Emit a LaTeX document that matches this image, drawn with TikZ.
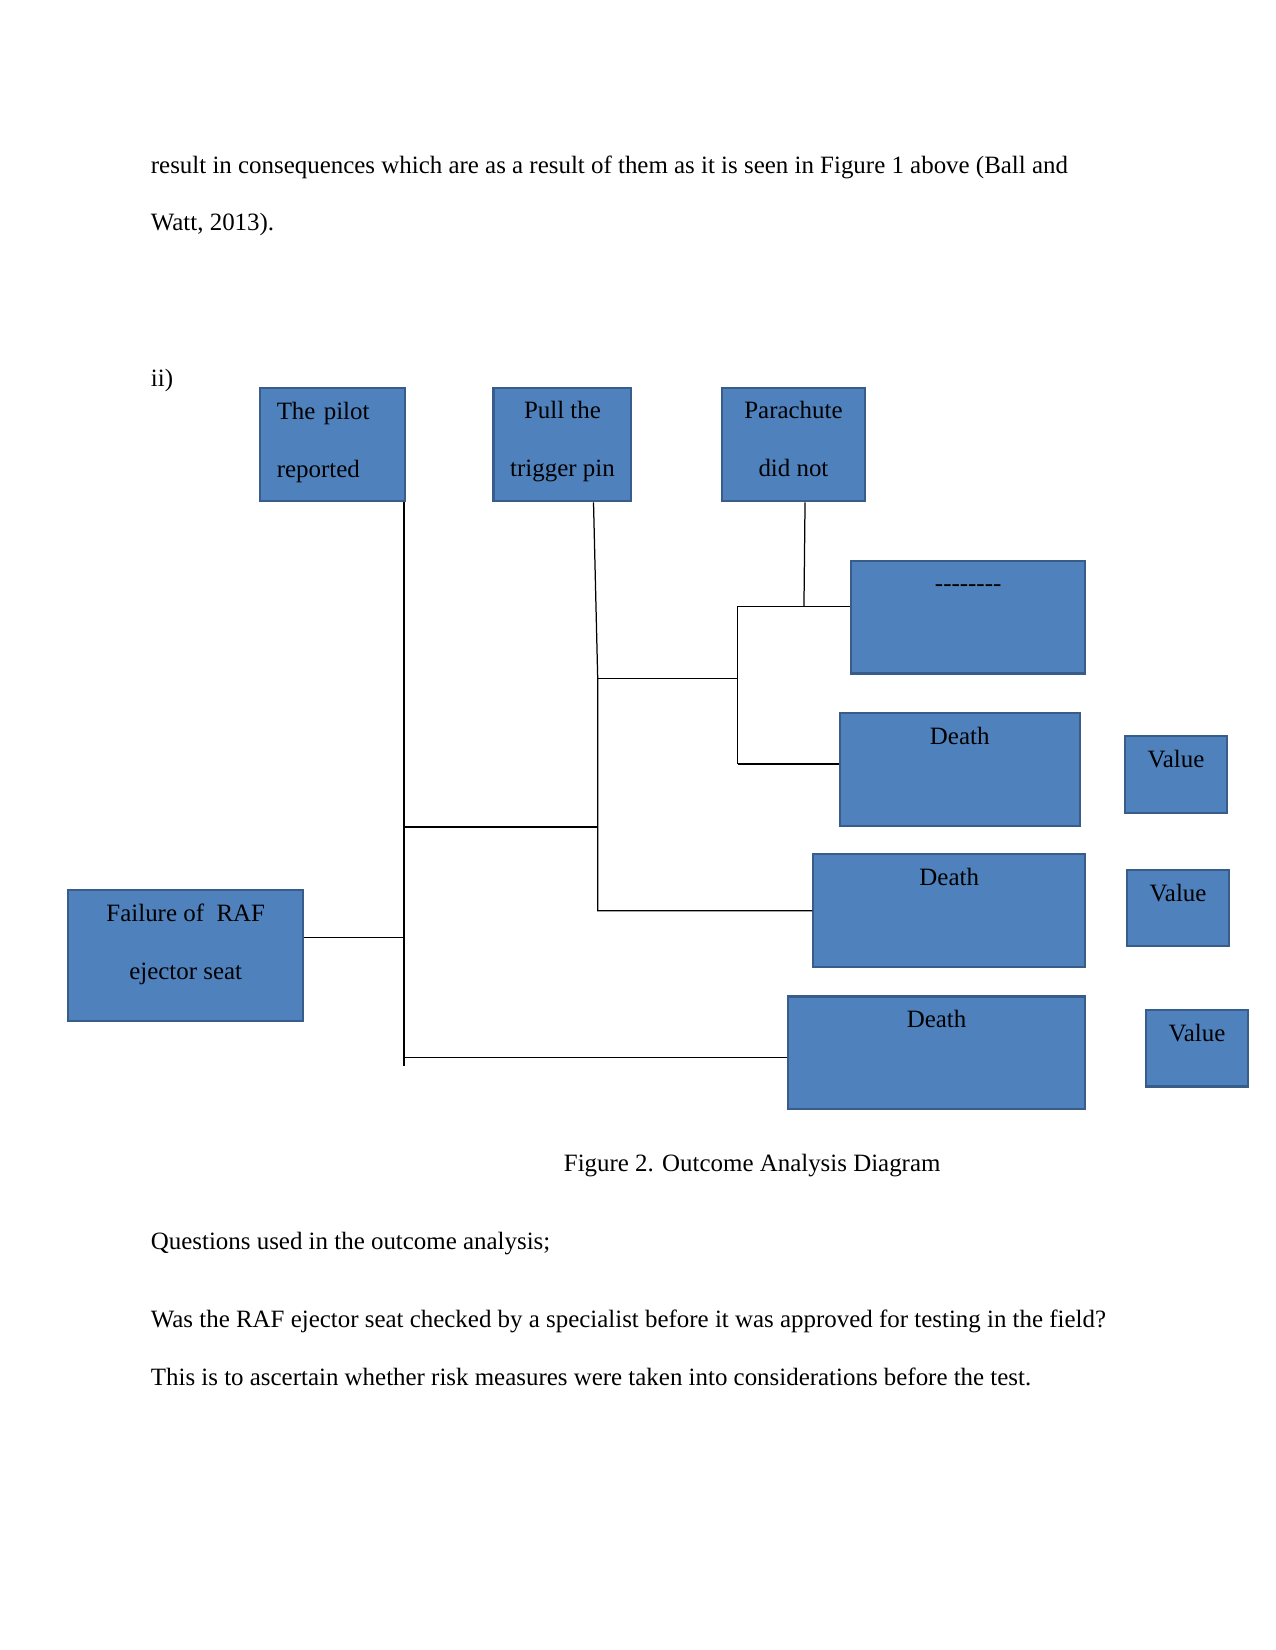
\documentclass[tikz,border=0pt]{standalone}
\usepackage{fontspec}
\setmainfont{Liberation Serif}
\usepackage{tikz}
\usetikzlibrary{positioning}

\definecolor{boxfill}{HTML}{4F81BD}
\definecolor{boxline}{HTML}{385D8A}

\begin{document}
\begin{tikzpicture}[
  x=0.017813cm, y=-0.017813cm,
  box/.style={draw=boxline, fill=boxfill, line width=1pt, inner sep=0pt, anchor=north west, font=\fontsize{12}{27.8}\selectfont},
  head/.style={box, align=center, text height=1.496cm, text depth=0.424cm},
  outcome/.style={box, minimum height=1.906cm, text height=0.525cm, text depth=1.381cm},
  val/.style={box, minimum width=1.728cm, text height=0.534cm, text depth=0.766cm},
  body/.style={anchor=base west, inner sep=0pt, font=\fontsize{12}{14}\selectfont},
  wire/.style={line width=0.6pt}
]
\useasboundingbox (0,0) rectangle (1212,1568);

\node[body] (l1) at (143,164.8) {result in consequences which are as a result of them as it is seen in Figure 1 above (Ball and};
\node[body] (l2) at (143,219.3) {Watt, 2013).};
\node[body] (ii) at (143,367.6) {ii)};

\node[box, align=left, text width=1.888cm, inner xsep=0.285cm, text height=0.536cm, text depth=1.382cm] (pilot) at (246,367.6) {The pilot\\reported};
\node[head, minimum width=2.334cm] (pull) at (468,367.6) {Pull the\\trigger pin};
\node[head, minimum width=2.423cm] (para) at (685,367.6) {Parachute\\did not};

\node[outcome, minimum width=3.955cm] (dash) at (808,532) {-{}-{}-{}-{}-{}-{}-{}-};
\node[outcome, minimum width=4.061cm] (d1) at (797,677) {Death};
\node[outcome, minimum width=4.596cm] (d2) at (772,811) {Death};
\node[outcome, minimum width=5.023cm] (d3) at (748,946) {Death};

\node[val] (v1) at (1068,698.7) {Value};
\node[val] (v2) at (1070,825.4) {Value};
\node[val] (v3) at (1088,958.5) {Value};

\node[box, align=center, minimum width=3.972cm, text height=1.514cm, text depth=0.705cm] (fail) at (64,845) {Failure of\ \ RAF\\ejector seat};

\coordinate (tr1) at (384,786);
\coordinate (tr2) at (384,891);
\coordinate (tr3) at (384,1005);
\coordinate (trend) at (384,1013);
\coordinate (pj) at (568,786);
\coordinate (pk) at (568,645);
\coordinate (qk) at (701,645);
\coordinate (qa) at (701,576);
\coordinate (qb) at (701,726);
\coordinate (pc) at (764,576);

\draw[wire] (trend |- pilot.south) -- (trend);
\draw[wire] (fail.east |- tr2) -- (tr2);
\draw[wire] (tr1) -- (pj);
\draw[wire] (tr3) -- (d3.west |- tr3);
\draw[wire] ([xshift=0.525cm]pull.south) -- (pk) -- (pk |- d2.west) -- (d2.west);
\draw[wire] (pk) -- (qk);
\draw[wire] (qa) -- (qb);
\draw[wire] ([xshift=0.196cm]para.south) -- (pc);
\draw[wire] (qa) -- (dash.west |- qa);
\draw[wire] (qb) -- (d1.west |- qb);

\node[body] (cap) at (535.5,1112.8) {Figure 2. Outcome Analysis Diagram};
\node[body] (q0) at (143,1187.6) {Questions used in the outcome analysis;};
\node[body] (q1) at (143,1261.7) {Was the RAF ejector seat checked by a specialist before it was approved for testing in the field?};
\node[body] (q2) at (143,1316.5) {This is to ascertain whether risk measures were taken into considerations before the test.};
\end{tikzpicture}
\end{document}
